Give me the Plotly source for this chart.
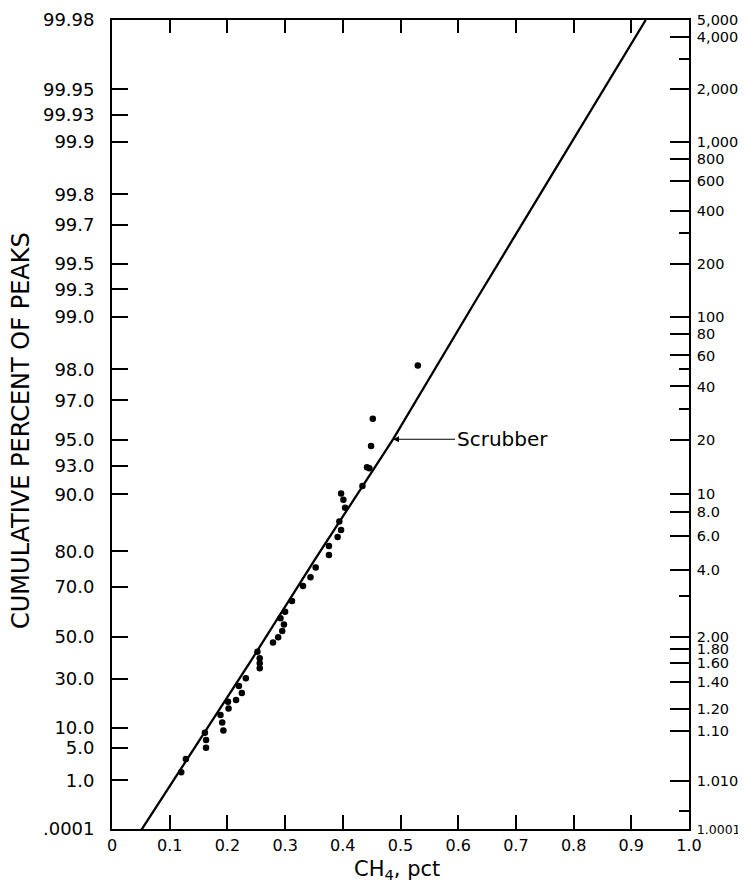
import numpy as np
import plotly.graph_objects as go

# ---------------- data ----------------
# measured peaks: CH4 (pct) vs cumulative percent of peaks
ch4_pct = [0.120, 0.128, 0.161, 0.163, 0.163, 0.188, 0.191, 0.193, 0.201, 0.202,
           0.215, 0.220, 0.225, 0.232, 0.252, 0.256, 0.256, 0.256, 0.279, 0.288,
           0.295, 0.298, 0.292, 0.300, 0.312, 0.331, 0.344, 0.353, 0.376, 0.376,
           0.391, 0.397, 0.394, 0.404, 0.401, 0.397, 0.434, 0.442, 0.446, 0.449,
           0.452, 0.530]
cum_pct = [1.6, 3.1, 8.6, 6.7, 5.0, 14.3, 11.7, 9.2, 19.6, 16.8,
           20.3, 26.6, 23.4, 30.2, 43.1, 39.9, 37.5, 35.1, 47.4, 49.9,
           52.7, 55.6, 58.2, 60.9, 65.0, 70.2, 73.0, 75.8, 81.2, 79.1,
           83.1, 84.5, 86.0, 88.2, 89.3, 90.1, 91.0, 92.9, 92.8, 94.6,
           96.2, 98.1]

# fitted "Scrubber" line
fit_ch4 = [0.0415, 0.2435, 0.351, 0.487, 0.631, 0.925]
fit_cum_pct = [0.005, 39.9, 77.8, 95.04, 99.195, 99.98]

# x axis ticks
x_ticks = [0, 0.1, 0.2, 0.3, 0.4, 0.5, 0.6, 0.7, 0.8, 0.9, 1.0]
x_tick_text = ["0", "0.1", "0.2", "0.3", "0.4", "0.5", "0.6", "0.7", "0.8", "0.9", "1.0"]
x_top_ticks = [0.1, 0.2, 0.3, 0.4, 0.5, 0.6, 0.7, 0.8, 0.9]

# left axis: cumulative percent
left_tick_pct = [99.98, 99.95, 99.93, 99.9, 99.8, 99.7, 99.5, 99.3, 99.0, 98.0, 97.0,
                 95.0, 93.0, 90.0, 80.0, 70.0, 50.0, 30.0, 10.0, 5.0, 1.0]
left_tick_text = ["99.98", "99.95", "99.93", "99.9", "99.8", "99.7", "99.5", "99.3",
                  "99.0", "98.0", "97.0", "95.0", "93.0", "90.0", "80.0", "70.0",
                  "50.0", "30.0", "10.0", "5.0", "1.0"]
left_bottom_text = ".0001"

# right axis: return period
right_T = [5000, 4000, 2000, 1000, 800, 600, 400, 200, 100, 80, 60, 40, 20, 10,
           8, 6, 4, 2, 1.8, 1.6, 1.4, 1.2, 1.1, 1.01]
right_text = ["5,000", "4,000", "2,000", "1,000", "800", "600", "400", "200", "100",
              "80", "60", "40", "20", "10", "8.0", "6.0", "4.0", "2.00", "1.80",
              "1.60", "1.40", "1.20", "1.10", "1.010"]
right_bottom_text = "1.0001"
right_minor_T = [3000, 300, 50, 30, 3, 1.001]


# ---------------- extreme-value (Gumbel) probability scale ----------------
def g_pct(p):
    F = np.asarray(p, dtype=float) / 100.0
    return -np.log(-np.log(F))


def g_T(T):
    F = 1.0 - 1.0 / np.asarray(T, dtype=float)
    return -np.log(-np.log(F))


Y_TOP = float(g_pct(99.98))
Y_BOT = -2.17  # broken bottom edge of the chart paper

FONT = "DejaVu Sans"

fig = go.Figure()

fig.add_trace(go.Scatter(
    x=fit_ch4, y=g_pct(fit_cum_pct), mode="lines",
    line=dict(color="black", width=2.3), hoverinfo="skip", showlegend=False))

fig.add_trace(go.Scatter(
    x=ch4_pct, y=g_pct(cum_pct), mode="markers",
    marker=dict(color="black", size=6.5), showlegend=False))

# invisible trace to carry the top / right axes
fig.add_trace(go.Scatter(
    x=[0.5], y=[0], xaxis="x2", yaxis="y2", mode="markers",
    marker=dict(opacity=0), hoverinfo="skip", showlegend=False))

axis_common = dict(showline=True, linecolor="black", linewidth=1.8,
                   showgrid=False, zeroline=False, ticks="inside",
                   tickcolor="black", tickwidth=1.5, automargin=False)

left_vals = list(g_pct(left_tick_pct)) + [Y_BOT]
left_text = left_tick_text + [left_bottom_text]
right_vals = list(g_T(right_T)) + [Y_BOT]
right_txt = right_text + ["<span style='font-size:12.5px'>%s</span>" % right_bottom_text]

fig.update_layout(
    width=738, height=883,
    margin=dict(l=104, r=57, t=12, b=62, autoexpand=False),
    paper_bgcolor="white", plot_bgcolor="white",
    showlegend=False,
    xaxis=dict(range=[0, 1], tickvals=x_ticks, ticktext=x_tick_text,
               ticklen=14, ticklabelstandoff=1,
               tickfont=dict(family=FONT, size=16, color="black"),
               **axis_common),
    xaxis2=dict(range=[0, 1], overlaying="x", side="top",
                tickvals=x_top_ticks, ticklen=13, showticklabels=False,
                **axis_common),
    yaxis=dict(range=[Y_BOT, Y_TOP], tickvals=left_vals, ticktext=left_text,
               ticklen=16, ticklabelstandoff=12,
               tickfont=dict(family=FONT, size=18, color="black"),
               **axis_common),
    yaxis2=dict(range=[Y_BOT, Y_TOP], overlaying="y", side="right",
                tickvals=right_vals, ticktext=right_txt,
                ticklen=19, ticklabelstandoff=3,
                tickfont=dict(family=FONT, size=14.5, color="black"),
                minor=dict(tickvals=list(g_T(right_minor_T)), ticks="inside",
                           ticklen=10, tickwidth=1.5, tickcolor="black"),
                **axis_common),
    annotations=[
        dict(text="CUMULATIVE PERCENT OF PEAKS", textangle=-90,
             xref="paper", yref="paper", x=0, y=0.492, xshift=-91,
             xanchor="center", yanchor="middle", showarrow=False,
             font=dict(family=FONT, size=24, color="black")),
        dict(text="CH<sub>4</sub>, pct", xref="paper", yref="paper",
             x=0.494, y=0, yshift=-41, xanchor="center", yanchor="middle",
             showarrow=False, font=dict(family=FONT, size=21, color="black")),
        dict(text="Scrubber", xref="x", yref="y", x=0.487, y=float(g_pct(95.04)),
             ax=62, ay=0, xanchor="left", yanchor="middle", showarrow=True,
             arrowhead=2, arrowsize=1, arrowwidth=1.2, arrowcolor="black",
             standoff=0, font=dict(family=FONT, size=20, color="black")),
    ],
)

fig.write_html("out.html")
